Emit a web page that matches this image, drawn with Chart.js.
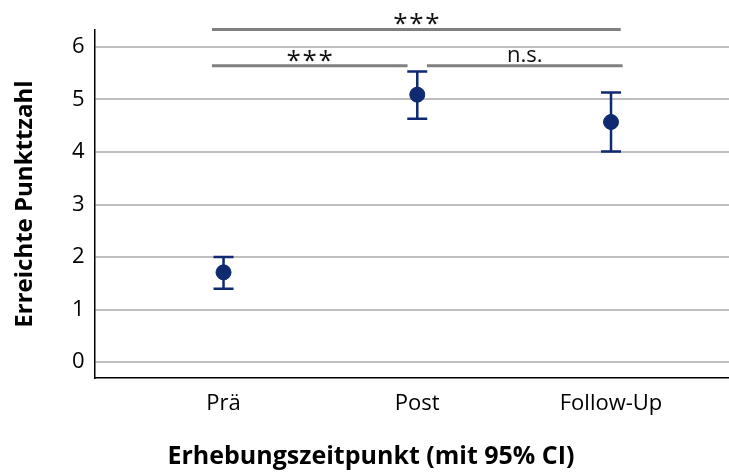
<!DOCTYPE html>
<html>
<head>
<meta charset="utf-8">
<script src="https://cdn.jsdelivr.net/npm/chart.js@4.4.1/dist/chart.umd.min.js"></script>
<style>
  html, body { margin: 0; padding: 0; background: #fff; }
  .wrap { width: 729px; height: 474px; }
</style>
</head>
<body>
<div class="wrap"><canvas id="chart" width="729" height="474"></canvas></div>
<script>
// Messzeitpunkte und Mittelwerte mit 95%-KI
const categories = ['Prä', 'Post', 'Follow-Up'];
const means = [1.71, 5.09, 4.57];
const ciLow = [1.40, 4.63, 4.01];
const ciHigh = [2.00, 5.53, 5.13];
const yTicks = [0, 1, 2, 3, 4, 5, 6];

// Signifikanzklammern (x in Kategorie-Einheiten, 1 = Prä)
const bracketFrom = [0.94, 0.94, 2.05];
const bracketTo = [3.05, 1.95, 3.06];
const bracketY = [6.33, 5.64, 5.64];
const bracketLabel = ['***', '***', 'n.s.'];

const navy = '#0f2a70';
const font = '"Open Sans", sans-serif';

const errorBars = {
  id: 'errorBars',
  beforeDatasetsDraw(chart) {
    const { ctx, scales: { x, y } } = chart;
    ctx.save();
    ctx.strokeStyle = navy;
    ctx.lineWidth = 2.5;
    means.forEach((m, i) => {
      const px = x.getPixelForValue(i + 1);
      const top = y.getPixelForValue(ciHigh[i]);
      const bot = y.getPixelForValue(ciLow[i]);
      ctx.beginPath();
      ctx.moveTo(px, top); ctx.lineTo(px, bot);
      ctx.moveTo(px - 10, top); ctx.lineTo(px + 10, top);
      ctx.moveTo(px - 10, bot); ctx.lineTo(px + 10, bot);
      ctx.stroke();
    });
    ctx.restore();
  }
};

const brackets = {
  id: 'brackets',
  afterDraw(chart) {
    const { ctx, scales: { x, y } } = chart;
    ctx.save();
    bracketY.forEach((v, i) => {
      const x1 = x.getPixelForValue(bracketFrom[i]);
      const x2 = x.getPixelForValue(bracketTo[i]);
      const py = y.getPixelForValue(v);
      const mid = (x1 + x2) / 2;
      ctx.strokeStyle = '#808080';
      ctx.lineWidth = 3;
      ctx.beginPath();
      ctx.moveTo(x1, py); ctx.lineTo(x2, py);
      ctx.stroke();
      ctx.fillStyle = '#111';
      ctx.textAlign = 'center';
      ctx.textBaseline = 'alphabetic';
      if (bracketLabel[i] === '***') {
        // Sterne einzeln, etwas weiter auseinander
        ctx.font = '26px ' + font;
        [-16, 0, 16].forEach(d => ctx.fillText('*', mid + d, py + 3));
      } else {
        ctx.font = '22px ' + font;
        ctx.fillText(bracketLabel[i], mid, py - 4);
      }
    });
    ctx.restore();
  }
};

new Chart(document.getElementById('chart'), {
  type: 'scatter',
  data: {
    datasets: [{
      data: means.map((m, i) => ({ x: i + 1, y: m })),
      backgroundColor: navy,
      borderColor: navy,
      pointRadius: 7.5,
      pointHoverRadius: 7.5,
      showLine: false
    }]
  },
  options: {
    responsive: false,
    animation: false,
    layout: { autoPadding: false, padding: { top: 30, left: 13, right: 0, bottom: 0 } },
    plugins: {
      legend: { display: false },
      tooltip: { enabled: false },
      title: {
        display: true,
        position: 'bottom',
        text: 'Erhebungszeitpunkt (mit 95% CI)',
        color: '#000',
        font: { family: font, size: 25, weight: 'bold', lineHeight: 1.2 },
        padding: { top: 2, bottom: 2 }
      }
    },
    scales: {
      x: {
        type: 'linear',
        min: 0.334,
        max: 3.609,
        afterBuildTicks: s => { s.ticks = categories.map((c, i) => ({ value: i + 1 })); },
        afterFit: s => { s.height = 62; s.paddingLeft = 0; s.paddingRight = 0; },
        grid: { display: false },
        border: { display: true, color: '#000', width: 1.5 },
        ticks: {
          padding: 5,
          color: '#000',
          font: { family: font, size: 22 },
          callback: v => categories[v - 1],
          maxRotation: 0
        }
      },
      y: {
        min: -0.3,
        max: 6.32,
        afterBuildTicks: s => { s.ticks = yTicks.map(v => ({ value: v })); },
        afterFit: s => { s.width = 81.5; s.paddingTop = 0; s.paddingBottom = 0; },
        grid: { color: '#bfbfbf', lineWidth: 2, drawTicks: false },
        border: { display: true, color: '#000', width: 1.5 },
        ticks: {
          padding: 10,
          color: '#000',
          font: { family: font, size: 22 }
        },
        title: {
          display: true,
          text: 'Erreichte Punkttzahl',
          color: '#000',
          font: { family: font, size: 24, weight: 'bold', lineHeight: 1 },
          padding: { top: 0, bottom: 0 }
        }
      }
    }
  },
  plugins: [errorBars, brackets]
});
</script>
</body>
</html>
